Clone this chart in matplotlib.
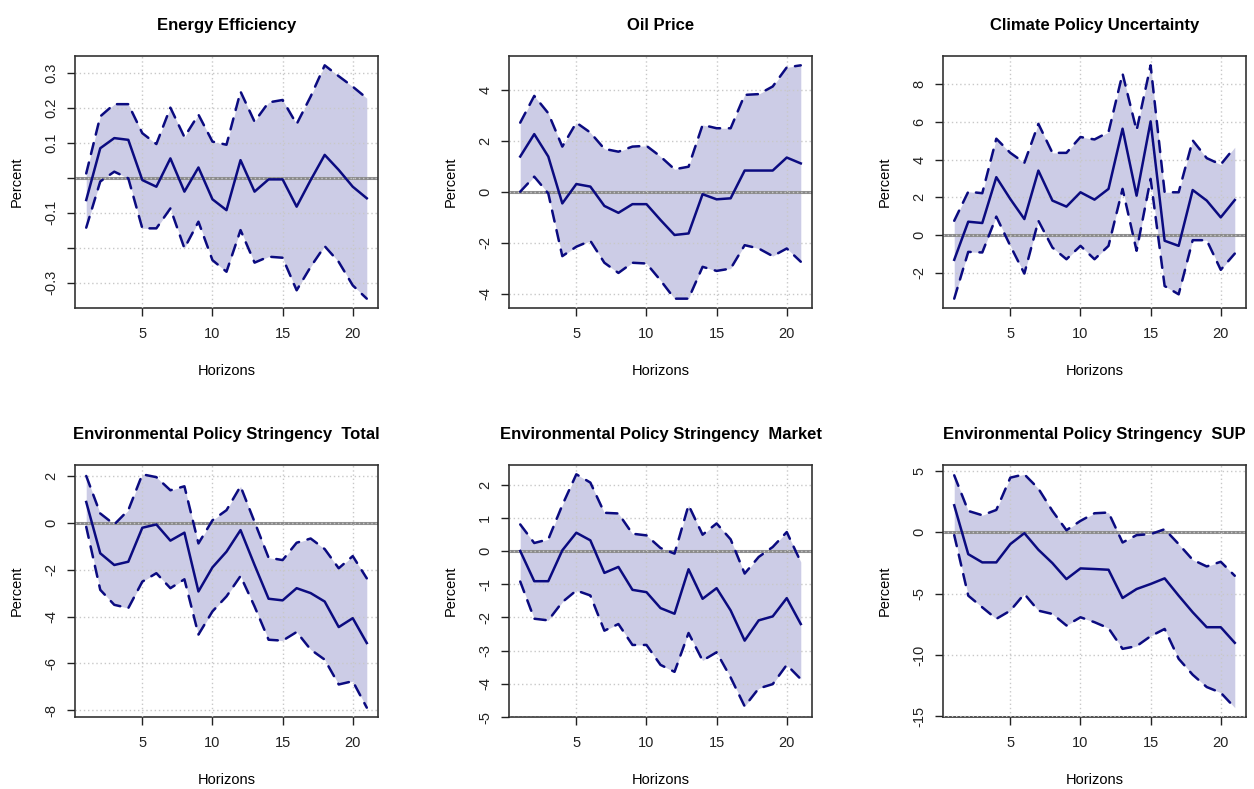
import numpy as np
import matplotlib
matplotlib.use("Agg")
import matplotlib.pyplot as plt

plt.rcParams['font.family'] = ['Liberation Sans', 'DejaVu Sans']

horizons = list(range(1, 22))

titles = ["Energy Efficiency", "Oil Price", "Climate Policy Uncertainty",
          "Environmental Policy Stringency  Total",
          "Environmental Policy Stringency  Market",
          "Environmental Policy Stringency  SUP"]

# energy efficiency
ee_mid = [-0.064, 0.084, 0.113, 0.108, -0.007, -0.026, 0.055, -0.04, 0.029, -0.062, -0.093,
          0.05, -0.04, -0.005, -0.005, -0.083, -0.007, 0.065, 0.022, -0.026, -0.059]
ee_up = [0.012, 0.175, 0.21, 0.21, 0.127, 0.096, 0.2, 0.116, 0.18, 0.103, 0.094,
         0.246, 0.16, 0.215, 0.222, 0.153, 0.232, 0.321, 0.29, 0.26, 0.227]
ee_lo = [-0.143, -0.011, 0.017, -0.002, -0.145, -0.145, -0.088, -0.202, -0.126, -0.236, -0.269,
         -0.15, -0.243, -0.226, -0.229, -0.322, -0.255, -0.196, -0.241, -0.308, -0.346]

# oil price
op_mid = [1.38, 2.26, 1.38, -0.46, 0.3, 0.2, -0.56, -0.83, -0.49, -0.49, -1.11,
          -1.7, -1.64, -0.1, -0.3, -0.26, 0.83, 0.83, 0.83, 1.34, 1.11]
op_up = [2.71, 3.76, 3.08, 1.77, 2.71, 2.32, 1.68, 1.57, 1.77, 1.8, 1.38,
         0.88, 0.98, 2.62, 2.49, 2.49, 3.8, 3.83, 4.13, 4.88, 4.96]
op_lo = [0.0, 0.59, -0.07, -2.53, -2.16, -1.93, -2.79, -3.19, -2.79, -2.82, -3.48,
         -4.2, -4.2, -2.95, -3.11, -3.02, -2.1, -2.23, -2.53, -2.23, -2.75]

# climate policy uncertainty
cpu_mid = [-1.31, 0.71, 0.64, 3.07, 1.91, 0.85, 3.42, 1.83, 1.51, 2.27, 1.88,
           2.45, 5.64, 2.09, 6.03, -0.3, -0.57, 2.39, 1.83, 0.94, 1.86]
cpu_up = [0.76, 2.3, 2.22, 5.11, 4.36, 3.83, 5.9, 4.36, 4.36, 5.2, 5.07,
          5.46, 8.56, 5.55, 9.0, 2.27, 2.27, 5.02, 4.08, 3.74, 4.66]
cpu_lo = [-3.37, -0.89, -0.92, 0.98, -0.57, -2.04, 0.76, -0.66, -1.28, -0.57, -1.28,
          -0.57, 2.45, -0.83, 2.98, -2.7, -3.14, -0.27, -0.27, -1.84, -0.98]

# EPS total
tot_mid = [0.89, -1.3, -1.8, -1.66, -0.21, -0.07, -0.76, -0.42, -2.93, -1.9, -1.23,
           -0.31, -1.8, -3.24, -3.31, -2.79, -3.0, -3.36, -4.45, -4.07, -5.13]
tot_up = [2.0, 0.4, -0.07, 0.54, 2.07, 1.95, 1.39, 1.56, -0.88, 0.11, 0.54,
          1.56, 0.04, -1.49, -1.59, -0.85, -0.67, -1.12, -1.94, -1.42, -2.37]
tot_lo = [-0.17, -2.86, -3.5, -3.64, -2.51, -2.15, -2.79, -2.41, -4.77, -3.78, -3.14,
          -2.27, -3.57, -4.99, -5.03, -4.66, -5.41, -5.84, -6.9, -6.76, -7.89]

# EPS market
mkt_mid = [0.0, -0.91, -0.91, 0.02, 0.55, 0.32, -0.66, -0.48, -1.17, -1.24, -1.72,
           -1.89, -0.55, -1.44, -1.12, -1.79, -2.7, -2.09, -1.97, -1.42, -2.2]
mkt_up = [0.8, 0.24, 0.35, 1.38, 2.31, 2.06, 1.15, 1.13, 0.52, 0.47, 0.09,
          -0.08, 1.38, 0.49, 0.83, 0.35, -0.68, -0.18, 0.12, 0.57, -0.33]
mkt_lo = [-0.92, -2.04, -2.09, -1.54, -1.19, -1.34, -2.4, -2.2, -2.83, -2.83, -3.43,
          -3.64, -2.47, -3.3, -3.05, -3.81, -4.68, -4.14, -4.01, -3.43, -3.86]

# EPS SUP
sup_mid = [2.19, -1.79, -2.46, -2.46, -0.97, -0.08, -1.43, -2.52, -3.82, -2.95, -3.0,
           -3.06, -5.36, -4.63, -4.22, -3.76, -5.17, -6.52, -7.74, -7.74, -9.01]
sup_up = [4.63, 1.73, 1.38, 1.81, 4.44, 4.71, 3.55, 1.73, 0.16, 0.92, 1.54,
          1.6, -0.84, -0.24, -0.16, 0.24, -0.97, -2.25, -2.79, -2.41, -3.55]
sup_lo = [-0.24, -5.17, -6.12, -7.06, -6.39, -5.03, -6.39, -6.66, -7.6, -6.93, -7.33,
          -7.82, -9.5, -9.28, -8.47, -7.88, -10.31, -11.61, -12.61, -13.07, -14.29]

yticks = [[0.3, 0.2, 0.1, 0, -0.1, -0.2, -0.3],
          [-4, -2, 0, 2, 4],
          [-2, 0, 2, 4, 6, 8],
          [-8, -6, -4, -2, 0, 2],
          [-5, -4, -3, -2, -1, 0, 1, 2],
          [-15, -10, -5, 0, 5]]
ylabels = [["0.3", "0.2", "0.1", "", "-0.1", "", "-0.3"],
           ["-4", "-2", "0", "2", "4"],
           ["-2", "0", "2", "4", "6", "8"],
           ["-8", "-6", "-4", "-2", "0", "2"],
           ["-5", "-4", "-3", "-2", "-1", "0", "1", "2"],
           ["-15", "-10", "-5", "0", "5"]]

series = [(ee_mid, ee_up, ee_lo), (op_mid, op_up, op_lo), (cpu_mid, cpu_up, cpu_lo),
          (tot_mid, tot_up, tot_lo), (mkt_mid, mkt_up, mkt_lo), (sup_mid, sup_up, sup_lo)]

W, H = 1254, 789
fig = plt.figure(figsize=(W / 100, H / 100), dpi=100)

lefts = [75, 509, 943]
tops = [56, 465]
aw, ah = 303, 252

fill_col = '#cccce6'
line_col = '#0b0b80'

for i in range(6):
    r, c = divmod(i, 3)
    ax = fig.add_axes([lefts[c] / W, 1 - (tops[r] + ah) / H, aw / W, ah / H])
    mid, up, lo = series[i]
    ax.fill_between(horizons, lo, up, color=fill_col, linewidth=0, zorder=1)
    ax.axhline(0, color='#8c8c8c', linewidth=2.2, zorder=2)
    for band in (up, lo):
        ax.plot(horizons, band, color=line_col, linewidth=1.8, linestyle=(0, (4.5, 3.5)),
                dash_capstyle='round', zorder=3)
    ax.plot(horizons, mid, color=line_col, linewidth=1.8, zorder=3)
    ax.margins(x=0.04, y=0.04)
    ax.set_xticks([5, 10, 15, 20])
    ax.set_yticks(yticks[i])
    ax.set_yticklabels(ylabels[i], rotation=90, va='center')
    ax.grid(True, color='#c8c8c8', linestyle=(0, (1, 2)), linewidth=1.0)
    ax.set_axisbelow(False)
    ax.tick_params(direction='out', length=6, width=1, colors='#222222', labelsize=10.5)
    ax.tick_params(axis='x', pad=8)
    ax.tick_params(axis='y', pad=6)
    for s in ax.spines.values():
        s.set_color('#333333')
        s.set_linewidth(1.2)
    ax.set_title(titles[i], fontsize=12, fontweight='bold', pad=19)
    ax.set_xlabel('Horizons', fontsize=10.5, labelpad=16)
    ax.set_ylabel('Percent', fontsize=10.5, labelpad=15)

fig.savefig('out.png', dpi=100, facecolor='white')
